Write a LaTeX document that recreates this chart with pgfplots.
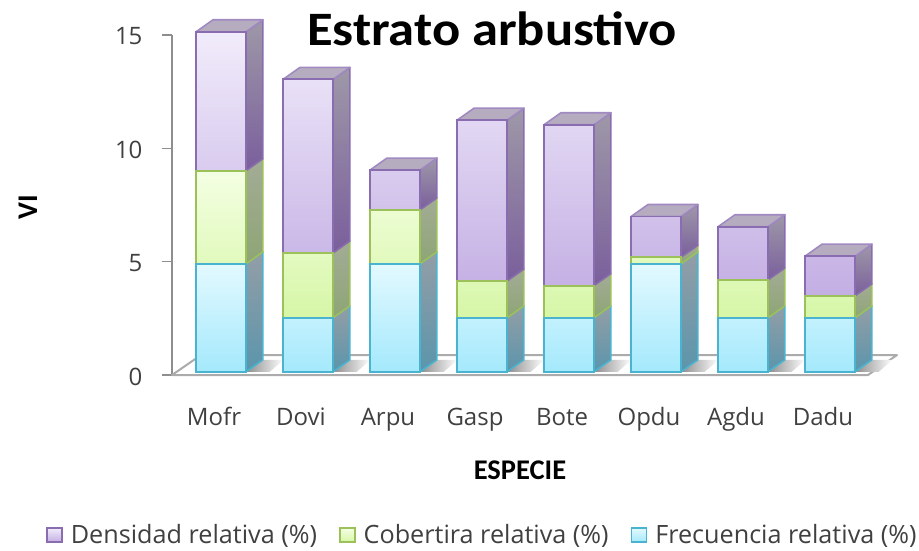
\documentclass[border=0pt]{standalone}
\usepackage{pgfplots}
\pgfplotsset{compat=1.18}
\usepackage{fontspec}
\setmainfont{Open Sans}
\newfontfamily\titlefont{Carlito}
\definecolor{axgray}{HTML}{8E8E8E}
\definecolor{flgray}{HTML}{ABABAB}
\definecolor{pT}{HTML}{F1ECFB}\definecolor{pB}{HTML}{C3AEE3}\definecolor{pE}{HTML}{8A6CB0}
\definecolor{gT}{HTML}{F4FFE3}\definecolor{gB}{HTML}{D6F6A6}\definecolor{gE}{HTML}{9DC15A}
\definecolor{bT}{HTML}{E3F9FF}\definecolor{bB}{HTML}{A4E9FC}\definecolor{bE}{HTML}{4AB4D0}
\definecolor{psT}{HTML}{9E98A8}\definecolor{psB}{HTML}{7A5F9C}
\definecolor{gsT}{HTML}{A3AC96}\definecolor{gsB}{HTML}{8EA575}
\definecolor{bsT}{HTML}{939EA6}\definecolor{bsB}{HTML}{5B95AC}
\definecolor{topc}{HTML}{B5ADBF}\definecolor{topE}{HTML}{A189C2}
\pgfplotsset{barshift/.style={xshift=5.5pt,yshift=3.2pt}}
% side face of one segment: category, low, high, colours
\newcommand\seg[6]{%
 \pgfmathsetmacro\xa{#1+0.287}\pgfmathsetmacro\xb{#1+0.482}%
 \pgfmathsetmacro\ya{#2+0.53}\pgfmathsetmacro\yb{#3+0.53}%
 \addplot[forget plot,barshift,top color=#4,bottom color=#5,draw=#6,line width=1.6pt,line join=round]
   coordinates {(\xa,#2) (\xb,\ya) (\xb,\yb) (\xa,#3)} --cycle;}
\newcommand\topf[2]{%
 \pgfmathsetmacro\xa{#1-0.287}\pgfmathsetmacro\xb{#1+0.287}\pgfmathsetmacro\xc{#1+0.482}\pgfmathsetmacro\xd{#1-0.092}%
 \pgfmathsetmacro\ya{#2+0.53}%
 \addplot[forget plot,barshift,fill=topc,draw=topE,line width=1.6pt,line join=round]
   coordinates {(\xa,#2) (\xb,#2) (\xc,\ya) (\xd,\ya)} --cycle;}
\newcommand\shad[1]{%
 \pgfmathsetmacro\xa{#1+0.287}\pgfmathsetmacro\xb{#1+0.56}\pgfmathsetmacro\xc{#1+0.72}\pgfmathsetmacro\xd{#1+0.482}%
 \addplot[forget plot,barshift,left color=black!45,right color=white,draw=none]
   coordinates {(\xa,0) (\xb,0) (\xc,0.53) (\xd,0.53)} --cycle;}
\newcommand\onebar[4]{% category, frecuencia, +cobertura, total
 \shad{#1}%
 \seg{#1}{0}{#2}{bsT}{bsB}{bE}%
 \seg{#1}{#2}{#3}{gsT}{gsB}{gE}%
 \seg{#1}{#3}{#4}{psT}{psB}{pE}%
 \topf{#1}{#4}}
\pgfplotsset{base/.style={
  scale only axis,width=696pt,height=340pt,
  xmin=-0.5,xmax=7.5,ymin=0,ymax=15,clip=false}}
\begin{document}
\begin{tikzpicture}
\useasboundingbox (-172pt,-175pt) rectangle (747pt,375pt);
\begin{axis}[base,
  axis x line=bottom,axis y line=left,
  axis line style={axgray,line width=1.6pt,-},
  x axis line style={flgray,line width=2pt,-},
  xtick={0,...,7},xticklabels={Mofr,Dovi,Arpu,Gasp,Bote,Opdu,Agdu,Dadu},
  x tick style={draw=none},
  ytick={0,5,10,15},
  y tick style={axgray,line width=1.6pt},
  tick align=outside,major tick length=10pt,
  /pgf/number format/assume math mode=true,
  tick label style={font=\fontsize{24}{28}\selectfont,text=black!75},
  x tick label style={anchor=base,yshift=-40pt,xshift=-1.5pt},
  y tick label style={anchor=east,xshift=-16pt,yshift=-1.5pt},
  xlabel={\titlefont\bfseries ESPECIE},
  ylabel={\titlefont\bfseries VI},
  label style={font=\fontsize{28.5}{32}\selectfont},
  xlabel style={at={(axis description cs:0.5,0)},anchor=center,yshift=-95pt},
  ylabel style={at={(axis description cs:0,0.5)},anchor=center,rotate=0,xshift=-2pt,yshift=144pt},
  title={\scalebox{1.095}[1]{\titlefont\bfseries Estrato arbustivo}},
  title style={at={(axis description cs:0.46,1)},anchor=center,yshift=0pt,font=\fontsize{48}{52}\selectfont},
  legend style={at={(axis description cs:0,0)},anchor=west,xshift=-126pt,yshift=-160pt,draw=none,fill=none,
    legend columns=3,font=\fontsize{25.2}{29}\selectfont,text=black!75,
    /tikz/every even column/.append style={column sep=20pt},
    /tikz/every odd column/.append style={column sep=6pt},inner sep=0pt},
  legend image code/.code={\draw[#1,line width=1.6pt] (0pt,-7pt) rectangle (15pt,7pt);},
]
\addplot[forget plot,fill=white,draw=flgray,line width=2pt,line join=round]
  coordinates {(-0.5,0) (7.5,0) (7.833,0.88) (-0.167,0.88)} --cycle;
\addlegendimage{top color=pT,bottom color=pB,draw=pE}
\addlegendentry{Densidad relativa (\%)}
\addlegendimage{top color=gT,bottom color=gB,draw=gE}
\addlegendentry{Cobertira relativa (\%)}
\addlegendimage{top color=bT,bottom color=bB,draw=bE}
\addlegendentry{Frecuencia relativa (\%)}
\onebar{0}{4.76}{8.87}{15.0}
\onebar{1}{2.38}{5.24}{12.9}
\onebar{2}{4.76}{7.14}{8.9}
\onebar{3}{2.38}{4.0}{11.1}
\onebar{4}{2.38}{3.8}{10.9}
\onebar{5}{4.76}{5.05}{6.85}
\onebar{6}{2.38}{4.05}{6.4}
\onebar{7}{2.38}{3.35}{5.1}
\end{axis}
\begin{axis}[base,hide axis,ybar stacked,bar width=50pt,bar shift=0pt]
\addplot[barshift,top color=bT,bottom color=bB,draw=bE,line width=1.9pt]
  coordinates {(0,4.76) (1,2.38) (2,4.76) (3,2.38) (4,2.38) (5,4.76) (6,2.38) (7,2.38)};
\addplot[barshift,top color=gT,bottom color=gB,draw=gE,line width=1.9pt]
  coordinates {(0,4.11) (1,2.86) (2,2.38) (3,1.62) (4,1.42) (5,0.29) (6,1.67) (7,0.97)};
\addplot[barshift,top color=pT,bottom color=pB,draw=pE,line width=1.9pt]
  coordinates {(0,6.13) (1,7.66) (2,1.76) (3,7.1) (4,7.1) (5,1.8) (6,2.35) (7,1.75)};
\end{axis}
\end{tikzpicture}
\end{document}
